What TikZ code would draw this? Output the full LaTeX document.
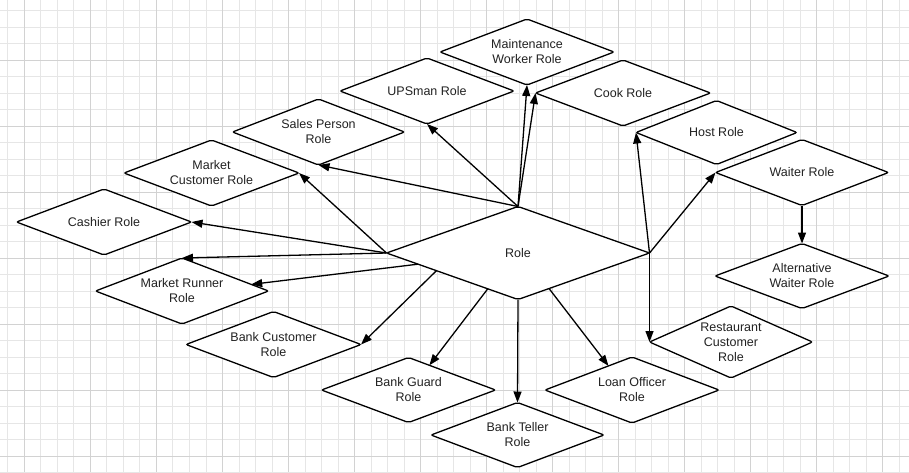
\documentclass[tikz,border=0pt]{standalone}
\usepackage{fontspec}
\newfontfamily\rolefont{Liberation Sans}
\usetikzlibrary{shapes.geometric,arrows.meta,calc}
\definecolor{gridminor}{HTML}{E6E6E6}
\definecolor{gridmajor}{HTML}{D2D2D2}
\definecolor{txt}{HTML}{222222}
\tikzset{
  dia/.style={diamond, draw=black, fill=white, line width=1.3pt, rounded corners=2pt,
    inner sep=0pt, outer sep=0pt, minimum width=175pt, minimum height=66pt},
  every label/.style={font=\rolefont\fontsize{12.5}{15}\selectfont, text=txt, align=center, inner sep=0pt},
  conn/.style={line width=1.3pt, -{Triangle[length=11pt,width=8pt]}}
}
\begin{document}
\begin{tikzpicture}[x=1pt,y=-1pt]
\useasboundingbox (0,0) rectangle (909,472);
\fill[white] (0,0) rectangle (909,472);
% grid
\foreach \k in {0,...,55} {\draw[gridminor,line width=0.8pt] ({7.79+16.51*\k},0) -- ({7.79+16.51*\k},472);}
\foreach \k in {0,...,28} {\draw[gridminor,line width=0.8pt] (0,{10.47+16.51*\k}) -- (909,{10.47+16.51*\k});}
\foreach \k in {0,...,13} {\draw[gridmajor,line width=1pt] ({24.3+66.04*\k},0) -- ({24.3+66.04*\k},472);}
\foreach \k in {0,...,6} {\draw[gridmajor,line width=1pt] (0,{60+66.04*\k}) -- (909,{60+66.04*\k});}

% nodes
\node[dia, minimum width=263pt, minimum height=93pt, label=center:Role] (role) at (518,253) {};
\node[dia, label=center:Cashier Role] (cashier) at (104,222) {};
\node[dia, label={center:Market\\Customer Role}] (mcust) at (211.5,173) {};
\node[dia, minimum width=172pt, label={center:Sales Person\\Role}] (sales) at (318.5,132) {};
\node[dia, minimum width=174pt, label=center:UPSman Role] (ups) at (427,91) {};
\node[dia, minimum width=174pt, label={center:Maintenance\\Worker Role}] (maint) at (527,52) {};
\node[dia, label=center:Cook Role] (cook) at (623,93) {};
\node[dia, minimum width=161pt, minimum height=64pt, label=center:Host Role] (host) at (716.5,132.5) {};
\node[dia, minimum width=173pt, label=center:Waiter Role] (waiter) at (802,172.5) {};
\node[dia, minimum width=174pt, minimum height=65pt, label={center:Alternative\\Waiter Role}] (altw) at (802,276) {};
\node[dia, minimum width=163pt, minimum height=72pt, label={center:Restaurant\\Customer\\Role}] (rest) at (731,342) {};
\node[dia, minimum width=174pt, label={center:Loan Officer\\Role}] (loan) at (632,390) {};
\node[dia, minimum width=173pt, minimum height=65pt, label={center:Bank Teller\\Role}] (teller) at (517.5,435) {};
\node[dia, minimum width=174pt, minimum height=65pt, label={center:Bank Guard\\Role}] (guard) at (408.5,390) {};
\node[dia, label={center:Bank Customer\\Role}] (bcust) at (273.5,344.5) {};
\node[dia, minimum width=173pt, label={center:Market Runner\\Role}] (runner) at (182,291) {};

% connectors
\draw[conn] (role.north) -- (sales.south);
\draw[conn] (role.north) -- (ups.south);
\draw[conn] (role.north) -- (maint.south);
\draw[conn] (role.north) -- (cook.west);
\draw[conn] (role.west) -- (mcust.east);
\draw[conn] (role.west) -- (cashier.east);
\draw[conn] (role.west) -- (runner.north);
\draw[conn] ($(role.west)!0.24!(role.south)$) -- ($(runner.north)!0.8!(runner.east)$);
\draw[conn] ($(role.west)!0.38!(role.south)$) -- (bcust.east);
\draw[conn] ($(role.west)!0.77!(role.south)$) -- ($(guard.north)!0.24!(guard.east)$);
\draw[conn] (role.south) -- (teller.north);
\draw[conn] ($(role.south)!0.236!(role.east)$) -- ($(loan.west)!0.73!(loan.north)$);
\draw[conn] (role.east) -- (rest.west);
\draw[conn] (role.east) -- (host.west);
\draw[conn] (role.east) -- (waiter.west);
\draw[conn] (waiter.south) -- (altw.north);
\end{tikzpicture}
\end{document}
